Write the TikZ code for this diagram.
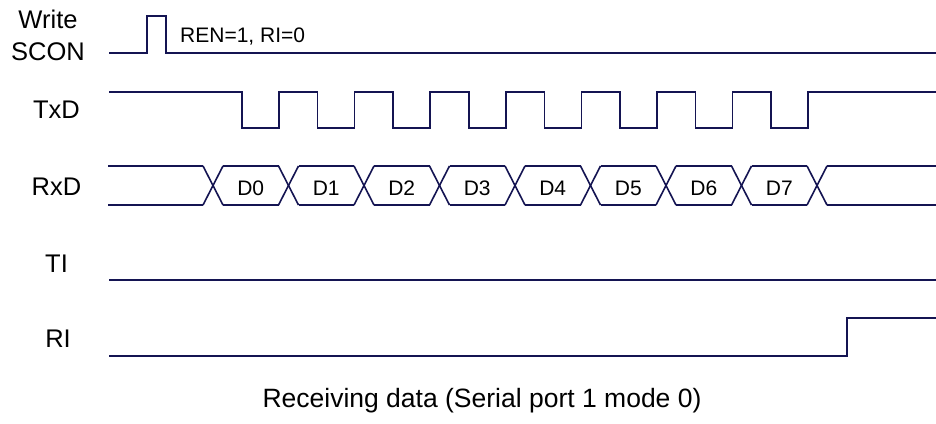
\documentclass[tikz,border=0pt]{standalone}
\usepackage{fontspec}
\setmainfont{Liberation Sans}
\usepackage{tikz}
\usepackage{xcolor}
\usetikzlibrary{positioning,calc}
\definecolor{WaveNavy}{HTML}{141452}
\definecolor{TextBlack}{HTML}{000000}
\definecolor{PaperWhite}{HTML}{ffffff}
\tikzset{
    % Signal name style
    signame/.style={
        text=TextBlack,
        anchor=base,
        inner sep=0pt,
        font=\fontsize{25.5}{28}\selectfont
    },
    % Data bit label style
    bitlabel/.style={
        text=TextBlack,
        anchor=base,
        inner sep=0pt,
        font=\fontsize{21}{23}\selectfont
    },
    % Caption style
    captionnode/.style={
        text=TextBlack,
        anchor=base,
        inner sep=0pt,
        font=\fontsize{26.5}{29}\selectfont
    },
    % Waveform line
    wave/.style={
        draw=WaveNavy,
        line width=1.6pt,
        line join=miter
    }
}
\begin{document}
\begin{tikzpicture}[x=1pt, y=-1pt]
        \useasboundingbox[fill=PaperWhite] (0,0) rectangle (936,423);

        % Signal names
        \node[signame] (write) at (48,28) {Write};
        \node[signame] (scon) at (48,60) {SCON};
        \node[signame] (txd) at (56.5,118) {TxD};
        \node[signame] (rxd) at (56.5,195) {RxD};
        \node[signame] (ti) at (56.5,272) {TI};
        \node[signame] (ri) at (58,347) {RI};

        % Write SCON
        \draw[wave] (109,53) -- (147,53) -- (147,16) -- (166,16) -- (166,53) -- (936,53);
        \node[bitlabel, anchor=base west] (ren) at (180,42) {REN=1, RI=0};

        % TxD clock
        \draw[wave] (109,92) -- (242,92)
            \foreach \k in {0,...,7} {
                -- ({242+75.6*\k},92) -- ({242+75.6*\k},128)
                -- ({279+75.6*\k},128) -- ({279+75.6*\k},92)
            } -- (936,92);

        % RxD data
        \draw[wave] (108,166) -- (203,166);
        \draw[wave] (108,205) -- (203,205);
        \foreach \k in {0,...,8} {
            \draw[wave] ({203+75.5*\k},166) -- ({223+75.5*\k},205);
            \draw[wave] ({203+75.5*\k},205) -- ({223+75.5*\k},166);
        }
        \foreach \k in {0,...,7} {
            \draw[wave] ({223+75.5*\k},166) -- ({278.5+75.5*\k},166);
            \draw[wave] ({223+75.5*\k},205) -- ({278.5+75.5*\k},205);
            \node[bitlabel] (d\k) at ({250.75+75.5*\k},195) {D\k};
        }
        \draw[wave] (827,166) -- (936,166);
        \draw[wave] (827,205) -- (936,205);

        % TI
        \draw[wave] (109,280) -- (936,280);

        % RI
        \draw[wave] (109,356) -- (847,356) -- (847,318) -- (936,318);

        % Caption
        \node[captionnode] (cap) at (482,407) {Receiving data (Serial port 1 mode 0)};
    \end{tikzpicture}
\end{document}
